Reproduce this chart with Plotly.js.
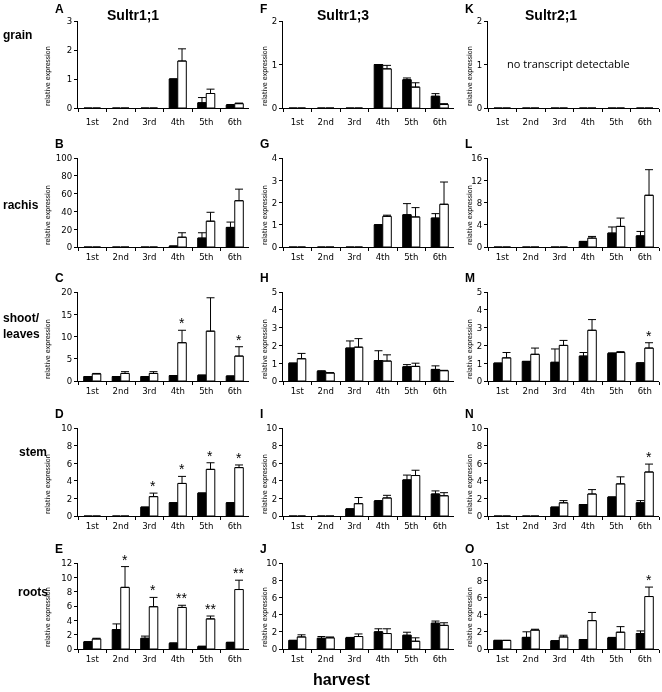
<!DOCTYPE html>
<html>
<head>
<meta charset="utf-8">
<script src="https://cdn.plot.ly/plotly-3.0.1.min.js"></script>
<style>
html,body{margin:0;padding:0;background:#fff;}
#chart{width:662px;height:692px;filter:grayscale(100%);}
</style>
</head>
<body>
<div id="chart"></div>
<script>
// ---------- DATA ----------
const harvests = ['1st','2nd','3rd','4th','5th','6th'];
const genes = ['Sultr1;1','Sultr1;3','Sultr2;1'];
const tissues = ['grain','rachis','shoot/<br>leaves','stem','roots'];

// Sultr1;1
const A_black = [0,0,0,1.0,0.18,0.1],      A_blackErr = [0,0,0,0,0.18,0.02];
const A_white = [0,0,0,1.62,0.5,0.15],     A_whiteErr = [0,0,0,0.42,0.15,0.02];
const A_stars = ['','','','','',''];
const B_black = [0,0,0,1,10,22],           B_blackErr = [0,0,0,0,6,6];
const B_white = [0,0,0,11,29,52],          B_whiteErr = [0,0,0,5,10,13];
const B_stars = ['','','','','',''];
const C_black = [1.0,1.0,1.0,1.2,1.3,1.1], C_blackErr = [0,0,0,0,0,0];
const C_white = [1.6,1.7,1.7,8.6,11.2,5.6],C_whiteErr = [0.1,0.4,0.4,2.8,7.5,2.1];
const C_stars = ['','','','*','','*'];
const D_black = [0,0,1.0,1.5,2.6,1.5],     D_blackErr = [0,0,0,0,0,0];
const D_white = [0,0,2.2,3.7,5.3,5.5],     D_whiteErr = [0,0,0.4,0.8,0.75,0.3];
const D_stars = ['','','*','*','*','*'];
const E_black = [1.0,2.7,1.5,0.8,0.35,0.9],E_blackErr = [0,0.8,0.3,0.05,0.05,0.05];
const E_white = [1.4,8.6,5.9,5.8,4.2,8.3], E_whiteErr = [0.1,2.9,1.3,0.3,0.4,1.3];
const E_stars = ['','*','*','**','**','**'];

// Sultr1;3
const F_black = [0,0,0,1.0,0.65,0.27],     F_blackErr = [0,0,0,0,0.04,0.06];
const F_white = [0,0,0,0.9,0.48,0.08],     F_whiteErr = [0,0,0,0.08,0.1,0.02];
const F_stars = ['','','','','',''];
const G_black = [0,0,0,1.0,1.45,1.3],      G_blackErr = [0,0,0,0,0.5,0.2];
const G_white = [0,0,0,1.38,1.35,1.92],    G_whiteErr = [0,0,0,0.05,0.42,1.0];
const G_stars = ['','','','','',''];
const H_black = [1.0,0.55,1.85,1.15,0.8,0.65], H_blackErr = [0,0.02,0.4,0.55,0.12,0.2];
const H_white = [1.25,0.45,1.9,1.12,0.82,0.58],H_whiteErr = [0.3,0.02,0.48,0.35,0.18,0.02];
const H_stars = ['','','','','',''];
const I_black = [0,0,0.8,1.7,4.1,2.5],     I_blackErr = [0,0,0,0.05,0.55,0.35];
const I_white = [0,0,1.4,2.05,4.6,2.3],    I_whiteErr = [0,0,0.7,0.3,0.6,0.35];
const I_stars = ['','','','','',''];
const J_black = [1.0,1.25,1.3,2.0,1.6,3.0],J_blackErr = [0,0.2,0.05,0.35,0.35,0.25];
const J_white = [1.4,1.3,1.45,1.8,0.9,2.75],J_whiteErr = [0.25,0.1,0.3,0.55,0.4,0.3];
const J_stars = ['','','','','',''];

// Sultr2;1
const K_black = [0,0,0,0,0,0],             K_blackErr = [0,0,0,0,0,0];
const K_white = [0,0,0,0,0,0],             K_whiteErr = [0,0,0,0,0,0];
const K_stars = ['','','','','',''];
const L_black = [0,0,0,1.0,2.5,2.0],       L_blackErr = [0,0,0,0,1.1,0.8];
const L_white = [0,0,0,1.6,3.7,9.3],       L_whiteErr = [0,0,0,0.3,1.5,4.6];
const L_stars = ['','','','','',''];
const M_black = [1.0,1.1,1.05,1.4,1.55,1.0], M_blackErr = [0,0,0.75,0.2,0.03,0.03];
const M_white = [1.3,1.5,2.0,2.85,1.6,1.85], M_whiteErr = [0.3,0.35,0.28,0.6,0.05,0.3];
const M_stars = ['','','','','','*'];
const N_black = [0,0,1.0,1.3,2.15,1.5],    N_blackErr = [0,0,0,0,0,0.25];
const N_white = [0,0,1.5,2.5,3.65,5.0],    N_whiteErr = [0,0,0.25,0.5,0.8,0.9];
const N_stars = ['','','','','','*'];
const O_black = [1.0,1.35,0.95,1.1,1.3,1.8], O_blackErr = [0,0.65,0,0,0.05,0.3];
const O_white = [1.0,2.2,1.4,3.3,1.95,6.1],  O_whiteErr = [0,0.1,0.2,0.95,0.65,1.1];
const O_stars = ['','','','','','*'];

// ---------- PANELS ----------
const panels = [
  {id:'A',col:0,row:0,ymax:3,  dtick:1, b:A_black,be:A_blackErr,w:A_white,we:A_whiteErr,s:A_stars},
  {id:'B',col:0,row:1,ymax:100,dtick:20,b:B_black,be:B_blackErr,w:B_white,we:B_whiteErr,s:B_stars},
  {id:'C',col:0,row:2,ymax:20, dtick:5, b:C_black,be:C_blackErr,w:C_white,we:C_whiteErr,s:C_stars},
  {id:'D',col:0,row:3,ymax:10, dtick:2, b:D_black,be:D_blackErr,w:D_white,we:D_whiteErr,s:D_stars},
  {id:'E',col:0,row:4,ymax:12, dtick:2, b:E_black,be:E_blackErr,w:E_white,we:E_whiteErr,s:E_stars},
  {id:'F',col:1,row:0,ymax:2,  dtick:1, b:F_black,be:F_blackErr,w:F_white,we:F_whiteErr,s:F_stars},
  {id:'G',col:1,row:1,ymax:4,  dtick:1, b:G_black,be:G_blackErr,w:G_white,we:G_whiteErr,s:G_stars},
  {id:'H',col:1,row:2,ymax:5,  dtick:1, b:H_black,be:H_blackErr,w:H_white,we:H_whiteErr,s:H_stars},
  {id:'I',col:1,row:3,ymax:10, dtick:2, b:I_black,be:I_blackErr,w:I_white,we:I_whiteErr,s:I_stars},
  {id:'J',col:1,row:4,ymax:10, dtick:2, b:J_black,be:J_blackErr,w:J_white,we:J_whiteErr,s:J_stars},
  {id:'K',col:2,row:0,ymax:2,  dtick:1, b:K_black,be:K_blackErr,w:K_white,we:K_whiteErr,s:K_stars},
  {id:'L',col:2,row:1,ymax:16, dtick:4, b:L_black,be:L_blackErr,w:L_white,we:L_whiteErr,s:L_stars},
  {id:'M',col:2,row:2,ymax:5,  dtick:1, b:M_black,be:M_blackErr,w:M_white,we:M_whiteErr,s:M_stars},
  {id:'N',col:2,row:3,ymax:10, dtick:2, b:N_black,be:N_blackErr,w:N_white,we:N_whiteErr,s:N_stars},
  {id:'O',col:2,row:4,ymax:10, dtick:2, b:O_black,be:O_blackErr,w:O_white,we:O_whiteErr,s:O_stars}
];

// ---------- LAYOUT GEOMETRY (pixels) ----------
const W = 662, Hh = 692;
const colLeft  = [78, 283, 488];
const colRight = [249, 454, 659];
const rowTop   = [21, 158, 292, 428, 563];
const rowZero  = [108, 247, 381, 516, 649];
const yTitleX  = [48, 265, 470];
const px = v => v / W;
const py = v => 1 - v / Hh;

const narrow = '"Liberation Sans Narrow", "DejaVu Sans Condensed", "Arial Narrow", Arial, sans-serif';
const arial = '"Liberation Sans", Arial, sans-serif';

const traces = [];
const layout = {
  width: W, height: Hh,
  margin: {l:0, r:0, t:0, b:0},
  paper_bgcolor: '#fff', plot_bgcolor: '#fff',
  showlegend: false,
  barmode: 'group', bargap: 0.4, bargroupgap: 0,
  annotations: []
};

// hide outline / error cap of bars whose value is zero (no transcript)
const lineW = vals => vals.map(v => v > 0 ? 1 : 0);
const errOf = (vals, errs) => errs.map((e, k) => vals[k] > 0 ? e : NaN);

panels.forEach((p, i) => {
  const n = i + 1;
  const xk = n === 1 ? 'x' : 'x' + n;
  const yk = n === 1 ? 'y' : 'y' + n;
  const zeros = p.b.map(() => 0);
  traces.push({
    type:'bar', name:'black bars', x:harvests, y:p.b, xaxis:xk, yaxis:yk,
    marker:{color:'#000', line:{color:'#000', width:lineW(p.b)}},
    error_y:{type:'data', array:errOf(p.b, p.be), arrayminus:zeros, symmetric:false, color:'#000', thickness:1, width:4},
    hoverinfo:'skip'
  });
  traces.push({
    type:'bar', name:'white bars', x:harvests, y:p.w, xaxis:xk, yaxis:yk,
    marker:{color:'#fff', line:{color:'#000', width:lineW(p.w)}},
    error_y:{type:'data', array:errOf(p.w, p.we), arrayminus:zeros, symmetric:false, color:'#000', thickness:1, width:4},
    hoverinfo:'skip'
  });
  layout['xaxis' + (n === 1 ? '' : n)] = {
    domain:[px(colLeft[p.col]), px(colRight[p.col])], anchor:yk,
    type:'category', showgrid:false, zeroline:false,
    showline:true, linecolor:'#000', linewidth:1,
    ticks:'outside', tickson:'boundaries', ticklen:3, tickcolor:'#000',
    ticklabelstandoff: p.row === 0 ? 5 : 1,
    tickfont:{family:narrow, size:9.5, color:'#000'},
    fixedrange:true
  };
  layout['yaxis' + (n === 1 ? '' : n)] = {
    domain:[py(rowZero[p.row]), py(rowTop[p.row])], anchor:xk,
    range:[0, p.ymax], tick0:0, dtick:p.dtick,
    showgrid:false, zeroline:false,
    showline:true, linecolor:'#000', linewidth:1,
    ticks:'outside', ticklen:3, tickcolor:'#000',
    tickfont:{family:narrow, size:9.5, color:'#000'},
    fixedrange:true
  };
  // panel letter
  layout.annotations.push({
    xref:'paper', yref:'paper', x:px(colLeft[p.col] - 25),
    y: p.row === 0 ? 1 : py(rowTop[p.row] - 14),
    text:'<b>' + p.id + '</b>', showarrow:false, xanchor:'left',
    yanchor: p.row === 0 ? 'top' : 'middle',
    font:{family:arial, size:12, color:'#000'}
  });
  // y-axis title
  layout.annotations.push({
    xref:'paper', yref:'paper', x:px(yTitleX[p.col]), y:py(rowZero[p.row] - 32),
    text:'relative expression', textangle:-90, showarrow:false,
    xanchor:'center', yanchor:'middle',
    font:{family:narrow, size:7, color:'#000'}
  });
  // significance stars
  p.s.forEach((st, k) => {
    if (!st) return;
    layout.annotations.push({
      xref:xk, yref:yk, x:harvests[k], y:p.w[k] + p.we[k],
      text:st, showarrow:false, xanchor:'center', yanchor:'bottom',
      xshift:4, yshift:-3,
      font:{family:arial, size:14, color:'#000000'}
    });
  });
});

// column titles
const titleX = [133, 343, 551];
genes.forEach((g, c) => {
  layout.annotations.push({
    xref:'paper', yref:'paper', x:px(titleX[c]), y:py(15),
    text:'<b>' + g + '</b>', showarrow:false, xanchor:'center', yanchor:'middle',
    font:{family:arial, size:14, color:'#000'}
  });
});

// row labels
const rowLabelX = [1, 1, 1, 17, 16];
const rowLabelY = [35, 205, 326, 452, 592];
tissues.forEach((t, r) => {
  layout.annotations.push({
    xref:'paper', yref:'paper', x:px(rowLabelX[r]), y:py(rowLabelY[r]),
    text:'<b>' + t + '</b>', showarrow:false, xanchor:'left', yanchor:'middle', align:'left',
    font:{family:arial, size:12, color:'#000'}
  });
});

// note in panel K
layout.annotations.push({
  xref:'paper', yref:'paper', x:px(568), y:py(63),
  text:'no transcript detectable', showarrow:false, xanchor:'center', yanchor:'middle',
  font:{family:'"Open Sans", "Liberation Sans", Arial, sans-serif', size:11, color:'#000'}
});

// common x label
layout.annotations.push({
  xref:'paper', yref:'paper', x:px(342), y:py(679),
  text:'<b>harvest</b>', showarrow:false, xanchor:'center', yanchor:'middle',
  font:{family:arial, size:16, color:'#000'}
});

Plotly.newPlot('chart', traces, layout, {displayModeBar:false, staticPlot:true});
</script>
</body>
</html>
